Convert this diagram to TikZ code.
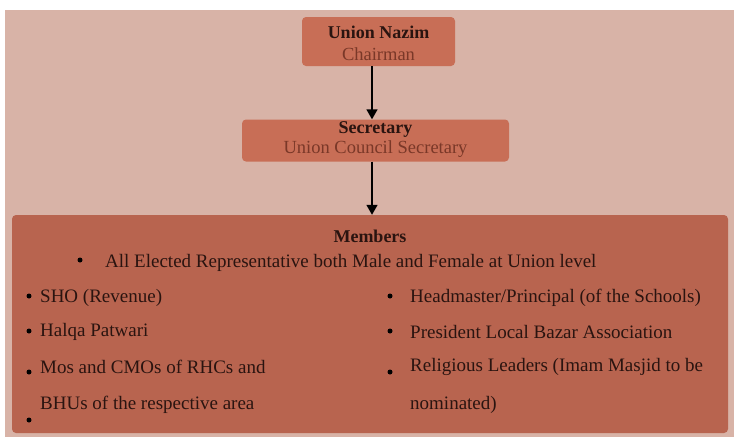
\documentclass[tikz,border=0pt]{standalone}
\usepackage{fontspec}
\setmainfont{Liberation Serif}
\usetikzlibrary{arrows.meta}
\definecolor{bgpink}{HTML}{D8B3A7}
\definecolor{boxtop}{HTML}{C86E56}
\definecolor{boxmem}{HTML}{B8644F}
\definecolor{txtsub}{HTML}{7A3828}
\definecolor{txtmain}{HTML}{2A1410}
\tikzset{
  rbox/.style={rounded corners=4pt, draw=none},
  conn/.style={-{Triangle[length=10pt,width=11pt]}, line width=1.6pt, black},
  item/.style={anchor=west, inner sep=0pt, font=\fontsize{19}{21}\selectfont, text=txtmain},
  title/.style={font=\fontsize{18}{20}\selectfont\bfseries, text=txtmain},
  sub/.style={font=\fontsize{18.5}{20}\selectfont, text=txtsub},
  dot/.style={circle, fill=black, inner sep=0pt, minimum size=5pt},
}
\begin{document}
\begin{tikzpicture}[x=1pt,y=-1pt]
\useasboundingbox (0,0) rectangle (734,437);
\fill[white] (0,0) rectangle (734,437);
\fill[bgpink] (5,10) rectangle (734,437);
\coordinate (ax) at (372,0);
% boxes
\node[rbox, fill=boxtop, minimum width=153pt, minimum height=49pt] (nazim) at (378.5,41.5) {};
\node[title] (nazimT) at (378.5,32) {Union Nazim};
\node[sub] (nazimS) at (378.5,54) {Chairman};
\node[rbox, fill=boxtop, minimum width=267pt, minimum height=42pt] (sec) at (375.5,140.5) {};
\node[title] (secT) at (375.5,129) {Secretary};
\node[sub] (secS) at (375.5,149) {Union Council Secretary};
\node[rbox, fill=boxmem, minimum width=716pt, minimum height=218pt] (mem) at (370,324) {};
\node[title] (memT) at (370,236) {Members};
% connectors
\draw[conn] (nazim.south -| ax) -- (sec.north -| ax);
\draw[conn] (sec.south -| ax) -- (mem.north -| ax);
% items
\node[dot] (b0) at (80,260) {};
\node[item] (t0) at (105,263) {All Elected Representative both Male and Female at Union level};
\node[dot] (b1) at (29,296) {};
\node[item] (t1) at (40,298) {SHO (Revenue)};
\node[dot] (b2) at (29,331) {};
\node[item] (t2) at (40,332) {Halqa Patwari};
\node[dot] (b3) at (29,372) {};
\node[item] (t3) at (40,367) {Mos and CMOs of RHCs and};
\node[dot] (b4) at (29,420) {};
\node[item] (t4) at (40,405) {BHUs of the respective area};
\node[dot] (b5) at (390,296) {};
\node[item] (t5) at (410,298) {Headmaster/Principal (of the Schools)};
\node[dot] (b6) at (390,331) {};
\node[item] (t6) at (410,332) {President Local Bazar Association};
\node[dot] (b7) at (390,372) {};
\node[item] (t7) at (410,367) {Religious Leaders (Imam Masjid to be};
\node[item] (t8) at (410,405) {nominated)};
\end{tikzpicture}
\end{document}
